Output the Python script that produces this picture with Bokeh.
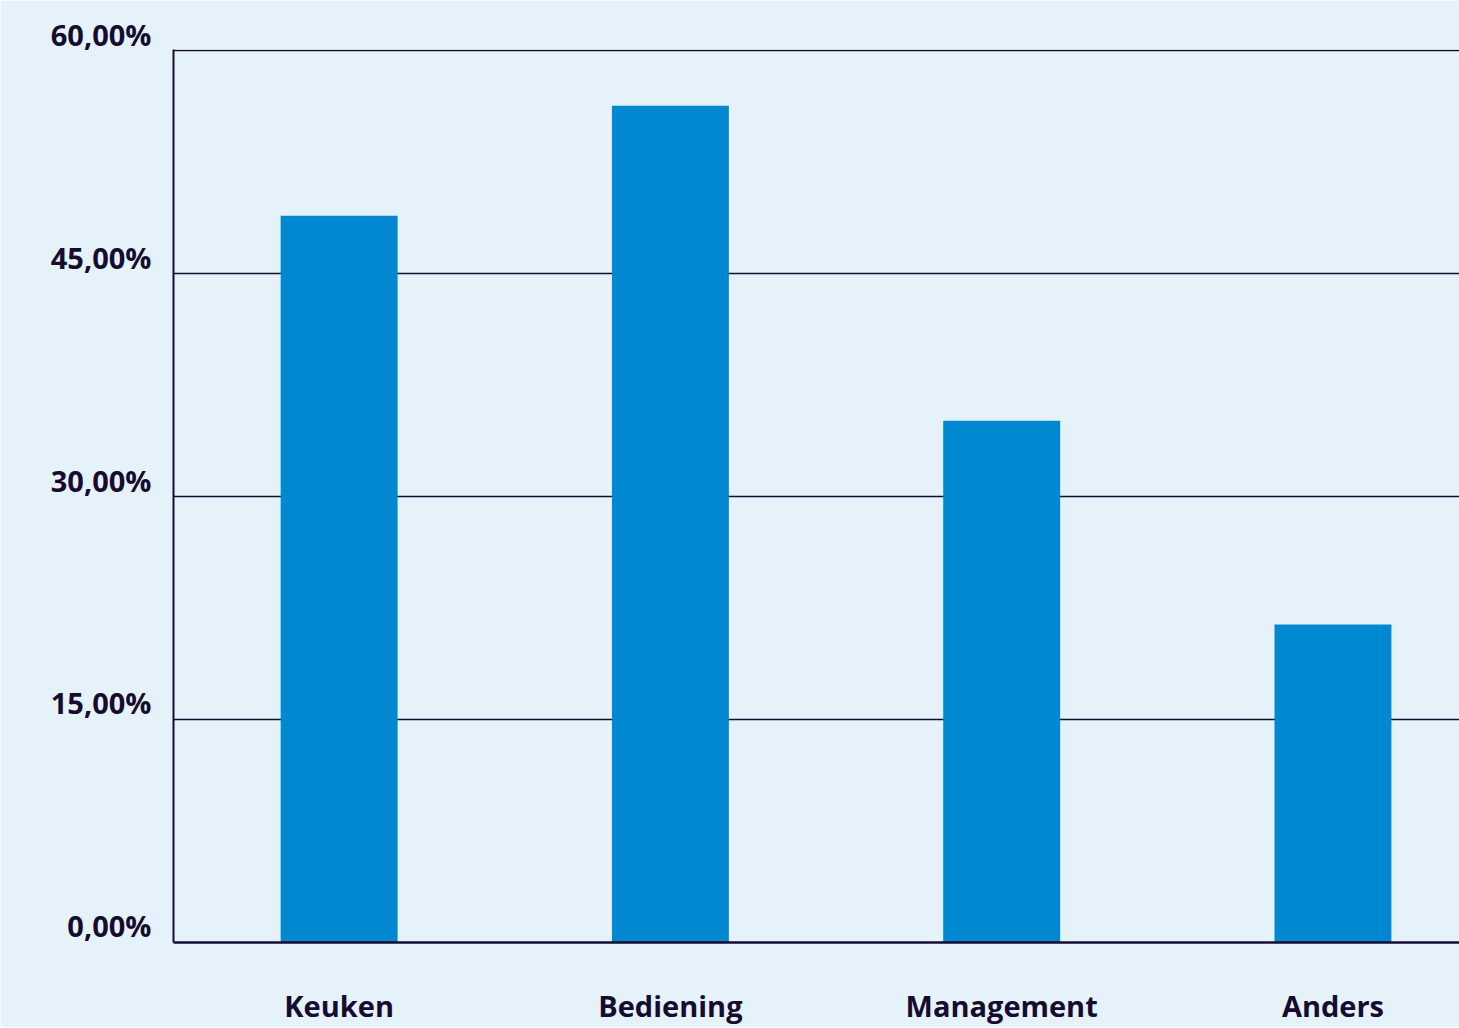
from bokeh.plotting import figure
from bokeh.models import Range1d, FixedTicker, ColumnDataSource
from bokeh.embed import file_html
from bokeh.resources import INLINE

categories = ["Keuken", "Bediening", "Management", "Anders"]
values = [48.9, 56.3, 35.1, 21.4]
y_ticks = [0, 15, 30, 45, 60]
y_tick_labels = ["0,00%", "15,00%", "30,00%", "45,00%", "60,00%"]

BG = "#E6F2FA"
BAR = "#0089D1"
INK = "#160C30"
FONT = "Open Sans"

x_pos = [i + 0.5 for i in range(len(categories))]
src = ColumnDataSource(dict(x=x_pos, top=values, cat=categories))

p = figure(
    frame_width=1286, frame_height=893,
    x_range=Range1d(0, 3.882), y_range=Range1d(0, 60.08),
    output_backend="svg", toolbar_location=None,
    min_border_left=173, min_border_right=0, min_border_top=49, min_border_bottom=80,
    background_fill_color=BG, border_fill_color=BG,
)
p.outline_line_color = None

p.vbar(x="x", top="top", bottom=0, width=0.353, source=src, color=BAR, line_color=None)

# x axis (categories)
p.xaxis.ticker = FixedTicker(ticks=x_pos)
p.xaxis.major_label_overrides = {x: c for x, c in zip(x_pos, categories)}
p.xaxis.major_tick_line_color = None
p.xaxis.minor_tick_line_color = None
p.xaxis.axis_line_color = INK
p.xaxis.axis_line_width = 2.5
p.xaxis.major_label_text_font = FONT
p.xaxis.major_label_text_font_style = "bold"
p.xaxis.major_label_text_font_size = "29px"
p.xaxis.major_label_text_color = INK
p.xaxis.major_label_standoff = 37

# y axis: a blank second line lifts each label above its gridline
p.yaxis.ticker = FixedTicker(ticks=y_ticks)
p.yaxis.major_label_overrides = {v: t + "\n " for v, t in zip(y_ticks, y_tick_labels)}
p.yaxis.major_label_text_font = FONT
p.yaxis.major_label_text_font_style = "bold"
p.yaxis.major_label_text_font_size = "29px"
p.yaxis.major_label_text_line_height = 0.85
p.yaxis.major_label_text_color = INK
p.yaxis.major_label_standoff = 16
p.yaxis.major_tick_line_color = None
p.yaxis.minor_tick_line_color = None
p.yaxis.axis_line_color = INK
p.yaxis.axis_line_width = 2

p.xgrid.grid_line_color = None
p.ygrid.ticker = FixedTicker(ticks=y_ticks[1:])
p.ygrid.grid_line_color = INK
p.ygrid.grid_line_width = 1.3

open("out.html", "w").write(file_html(p, INLINE))
